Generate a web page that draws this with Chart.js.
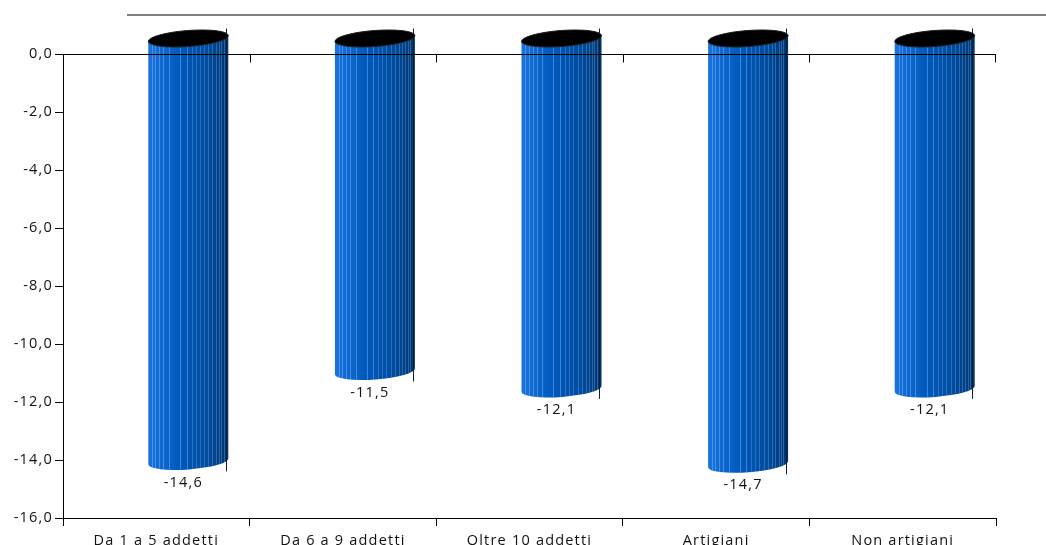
<!DOCTYPE html>
<html>
<head>
<meta charset="utf-8">
<script src="https://cdn.jsdelivr.net/npm/chart.js@4.4.1/dist/chart.umd.min.js"></script>
<style>
  body { margin: 0; background: #fff; }
  canvas { display: block; }
</style>
</head>
<body>
<canvas id="myChart" width="1046" height="545"></canvas>
<script>
const categories = ['Da 1 a 5 addetti', 'Da 6 a 9 addetti', 'Oltre 10 addetti', 'Artigiani', 'Non artigiani'];
const values = [-14.6, -11.5, -12.1, -14.7, -12.1];
const yMin = -16;
const yMax = 0;
const yStep = 2;

const fontFamily = '"Open Sans", "DejaVu Sans", sans-serif';
const fontSize = 14.5;

function fmt(v) {
    return v.toFixed(1).replace('.', ',');
}

// cylinder look: offset of the 3D body from the bar slot
const depthX = 32, depthY = -16;
const stripes = [0.05, 0.09, 0.14, 0.19, 0.26, 0.4, 0.48, 0.54, 0.59, 0.64, 0.7, 0.75, 0.8, 0.84, 0.88, 0.91, 0.94, 0.97];

function drawCylinder(ctx, cx, top, bottom, w) {
    const rx = w / 2, ry = 8, rot = -0.075;
    ctx.save();
    ctx.beginPath();
    ctx.ellipse(cx, bottom, rx, ry, rot, 0, Math.PI);
    ctx.ellipse(cx, top, rx, ry, rot, Math.PI, Math.PI * 2);
    ctx.closePath();
    const g = ctx.createLinearGradient(cx - rx, 0, cx + rx, 0);
    g.addColorStop(0, '#1a74dc');
    g.addColorStop(0.4, '#0058ba');
    g.addColorStop(0.75, '#004c9e');
    g.addColorStop(1, '#003468');
    ctx.fillStyle = g;
    ctx.fill();
    ctx.save();
    ctx.clip();
    ctx.lineWidth = 1;
    stripes.forEach(function (f) {
        ctx.strokeStyle = f < 0.5 ? 'rgba(120,180,255,0.5)' : 'rgba(110,160,230,0.4)';
        const x = Math.round(cx - rx + f * w) + 0.5;
        ctx.beginPath();
        ctx.moveTo(x, top - ry - 2);
        ctx.lineTo(x, bottom + ry + 2);
        ctx.stroke();
    });
    ctx.restore();
    ctx.strokeStyle = '#0b1e3c';
    ctx.lineWidth = 1;
    ctx.stroke();
    // top cap
    ctx.beginPath();
    ctx.ellipse(cx, top, rx, ry, rot, 0, Math.PI * 2);
    ctx.fillStyle = '#000';
    ctx.fill();
    ctx.strokeStyle = '#222';
    ctx.stroke();
    ctx.restore();
}

const cylinderPlugin = {
    id: 'cylinders',
    beforeDraw(chart) {
        chart.ctx.letterSpacing = '1.2px';
    },
    afterDatasetsDraw(chart) {
        const ctx = chart.ctx;
        const meta = chart.getDatasetMeta(0);
        meta.data.forEach(function (bar, i) {
            const cx = bar.x + depthX;
            drawCylinder(ctx, cx, bar.base + depthY, bar.y + depthY, bar.width);
            ctx.save();
            ctx.fillStyle = '#111';
            ctx.font = fontSize + 'px ' + fontFamily;
            ctx.textAlign = 'center';
            ctx.textBaseline = 'middle';
            ctx.fillText(fmt(values[i]), bar.x + depthX - 5, bar.y + 5);
            ctx.restore();
        });
    },
    afterDraw(chart) {
        const ctx = chart.ctx;
        const xs = chart.scales.x;
        const ys = chart.scales.y;
        const y0 = Math.round(ys.getPixelForValue(0)) + 0.5;
        ctx.save();
        // axis line at zero with tick marks at category boundaries
        ctx.strokeStyle = '#000';
        ctx.lineWidth = 1;
        ctx.beginPath();
        ctx.moveTo(chart.chartArea.left, y0);
        ctx.lineTo(chart.chartArea.right, y0);
        for (let i = 1; i <= categories.length; i++) {
            const x = Math.round((xs.getPixelForValue(i - 1) + xs.getPixelForValue(i)) / 2) + 0.5;
            const xb = i === categories.length ? chart.chartArea.right - 0.5 : x;
            ctx.moveTo(xb, y0);
            ctx.lineTo(xb, y0 + 8);
        }
        ctx.stroke();
        // grey line at the top
        ctx.strokeStyle = '#808080';
        ctx.lineWidth = 2;
        ctx.beginPath();
        ctx.moveTo(127, 15);
        ctx.lineTo(chart.width, 15);
        ctx.stroke();
        ctx.restore();
    }
};

const ctx = document.getElementById('myChart').getContext('2d');
const myChart = new Chart(ctx, {
    type: 'bar',
    data: {
        labels: categories,
        datasets: [{
            data: values,
            backgroundColor: 'rgba(0,0,0,0)',
            borderWidth: 0,
            barPercentage: 0.43,
            categoryPercentage: 1
        }]
    },
    options: {
        responsive: false,
        animation: false,
        layout: { padding: { top: 54, right: 50, left: 0, bottom: 0 } },
        plugins: {
            legend: { display: false },
            tooltip: { enabled: false }
        },
        scales: {
            y: {
                min: yMin,
                max: yMax,
                afterFit: function (s) { s.width = 63; },
                ticks: {
                    stepSize: yStep,
                    color: '#111',
                    padding: 2,
                    font: { family: fontFamily, size: fontSize },
                    callback: function (v) { return fmt(v); }
                },
                grid: { drawOnChartArea: false, tickLength: 8, color: '#000' },
                border: { color: '#000', width: 1 }
            },
            x: {
                afterFit: function (s) { s.height = 27; },
                ticks: {
                    color: '#111',
                    padding: 6,
                    maxRotation: 0,
                    font: { family: fontFamily, size: fontSize }
                },
                grid: { offset: true, drawOnChartArea: false, tickLength: 8, color: '#000' },
                border: { color: '#000', width: 1 }
            }
        }
    },
    plugins: [cylinderPlugin]
});
</script>
</body>
</html>
